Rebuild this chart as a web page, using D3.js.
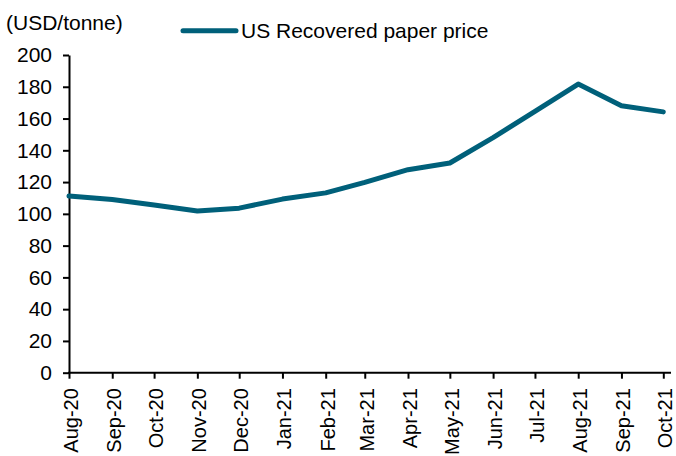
<!DOCTYPE html>
<html>
<head>
<meta charset="utf-8">
<script src="https://cdn.jsdelivr.net/npm/d3@7"></script>
<style>
  html, body { margin: 0; padding: 0; background: #fff; }
  svg text { font-family: "Liberation Sans", Arial, sans-serif; fill: #000; }
</style>
</head>
<body>
<svg id="chart" width="676" height="456"></svg>
<script>
// ---- data ----
const months = ["Aug-20","Sep-20","Oct-20","Nov-20","Dec-20","Jan-21","Feb-21","Mar-21","Apr-21","May-21","Jun-21","Jul-21","Aug-21","Sep-21","Oct-21"];
const prices = [111.2, 109, 105.6, 101.8, 103.6, 109.3, 113.2, 119.8, 127.8, 132, 148, 164.5, 181.7, 168, 164.2];
const yTicks = [0, 20, 40, 60, 80, 100, 120, 140, 160, 180, 200];
const seriesName = "US Recovered paper price";
const unitLabel = "(USD/tonne)";
const lineColor = "#00607a";

(function () {
const parse = d3.timeParse("%b-%y");
const fmt = d3.timeFormat("%b-%y");
const dates = months.map(parse);
const data = dates.map((d, i) => ({ date: d, value: prices[i] }));

const svg = d3.select("#chart");
const mLeft = 69, mRight = 663.3, mTop = 55, mBottom = 372.7;

const x = d3.scaleTime().domain(d3.extent(dates)).range([mLeft, mRight]);
const y = d3.scaleLinear().domain([0, 200]).range([mBottom, mTop]);

// y axis
const yAxis = svg.append("g")
  .attr("transform", `translate(${mLeft},0)`)
  .call(d3.axisLeft(y).tickValues(yTicks).tickSize(6).tickSizeOuter(0).tickPadding(11));
yAxis.select(".domain").attr("stroke", "#000").attr("stroke-width", 2);
yAxis.selectAll(".tick line").attr("stroke", "#000").attr("stroke-width", 2);
yAxis.selectAll(".tick text").attr("font-size", 21).attr("font-family", "Liberation Sans, Arial, sans-serif").attr("fill", "#000");

// x axis
const xAxis = svg.append("g")
  .attr("transform", `translate(0,${mBottom})`)
  .call(d3.axisBottom(x).tickValues(dates).tickFormat(fmt).tickSize(6).tickSizeOuter(0));
xAxis.select(".domain").remove();
xAxis.append("line").attr("x1", mLeft - 1).attr("x2", 671).attr("y1", 0).attr("y2", 0)
  .attr("stroke", "#000").attr("stroke-width", 2);
xAxis.selectAll(".tick line").attr("stroke", "#000").attr("stroke-width", 2);
xAxis.selectAll(".tick text")
  .attr("font-size", 20).attr("font-family", "Liberation Sans, Arial, sans-serif").attr("fill", "#000")
  .attr("text-anchor", "end")
  .attr("transform", "rotate(-90)")
  .attr("x", -15.5).attr("y", 0).attr("dy", 8.5);

// line
const line = d3.line().x(d => x(d.date)).y(d => y(d.value));
svg.append("path").datum(data)
  .attr("d", line)
  .attr("fill", "none")
  .attr("stroke", lineColor)
  .attr("stroke-width", 5)
  .attr("stroke-linejoin", "round")
  .attr("stroke-linecap", "round");

// unit label
svg.append("text").attr("x", 6).attr("y", 29.5).attr("font-size", 21).text(unitLabel);

// legend
svg.append("line").attr("x1", 183).attr("x2", 236).attr("y1", 30.7).attr("y2", 30.7)
  .attr("stroke", lineColor).attr("stroke-width", 5).attr("stroke-linecap", "round");
svg.append("text").attr("x", 241).attr("y", 38).attr("font-size", 21).text(seriesName);
})();
</script>
</body>
</html>
